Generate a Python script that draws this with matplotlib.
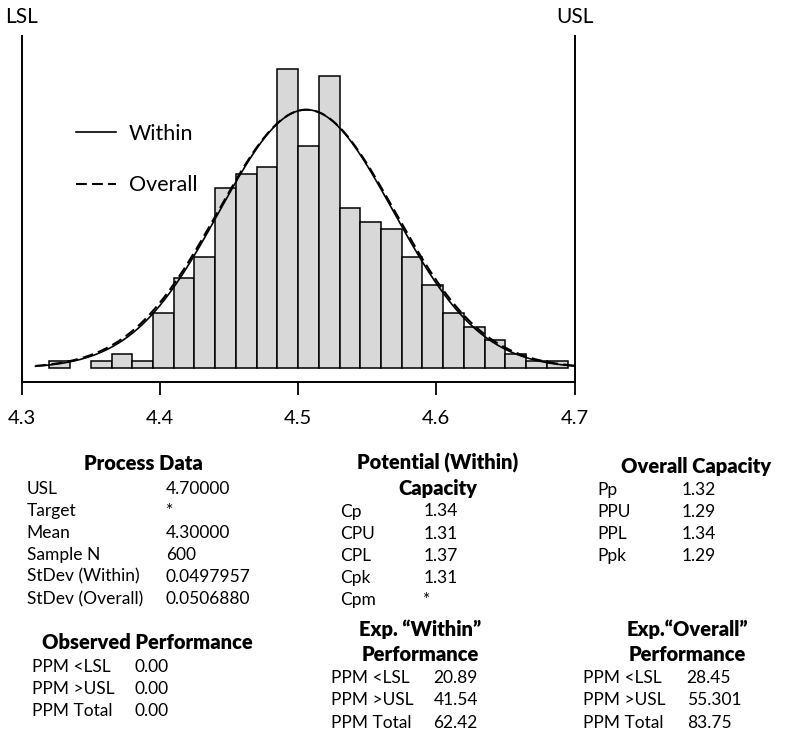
import numpy as np
import matplotlib
matplotlib.use("Agg")
import matplotlib.pyplot as plt

plt.rcParams['font.family'] = ['Lato', 'DejaVu Sans']

# Spec limits and histogram data
LSL = 4.3
USL = 4.7
bin_start = 4.32
bin_width = 0.015
counts = [1, 0, 1, 2, 1, 8, 13, 16, 26, 28, 29, 43, 32, 42, 23, 21, 20, 16, 12, 8, 6, 4, 2, 1, 1]

tick_values = [4.3, 4.4, 4.5, 4.6, 4.7]
tick_labels = ["4.3", "4.4", "4.5", "4.6", "4.7"]

# Fitted normal curves (as drawn)
curve_mean = 4.506
within_sd = 0.063
overall_sd = 0.064
curve_peak = 37.2
curve_from, curve_to = 4.31, 4.70

# Summary tables
process_labels = ["USL", "Target", "Mean", "Sample N", "StDev (Within)", "StDev (Overall)"]
process_values = ["4.70000", "*", "4.30000", "600", "0.0497957", "0.0506880"]

observed_labels = ["PPM <LSL", "PPM >USL", "PPM Total"]
observed_values = ["0.00", "0.00", "0.00"]

potential_labels = ["Cp", "CPU", "CPL", "Cpk", "Cpm"]
potential_values = ["1.34", "1.31", "1.37", "1.31", "*"]

overall_cap_labels = ["Pp", "PPU", "PPL", "Ppk"]
overall_cap_values = ["1.32", "1.29", "1.34", "1.29"]

exp_within_labels = ["PPM <LSL", "PPM >USL", "PPM Total"]
exp_within_values = ["20.89", "41.54", "62.42"]

exp_overall_labels = ["PPM <LSL", "PPM >USL", "PPM Total"]
exp_overall_values = ["28.45", "55.301", "83.75"]

W, H = 786, 733


def fx(x):
    return x / W


def fy(y):
    return 1 - y / H


fig = plt.figure(figsize=(W / 100, H / 100), dpi=100)
ax = fig.add_axes([fx(21.7), fy(382), fx(574.5) - fx(21.7), fy(36) - fy(382)])

# histogram
edges = bin_start + bin_width * np.arange(len(counts))
counts = np.array(counts)
keep = counts > 0
ax.bar(edges[keep], counts[keep], width=bin_width, align='edge',
       color='#d8d8d8', edgecolor='black', linewidth=1.1, zorder=2)

# normal curves
xs = np.linspace(curve_from, curve_to, 400)
within_curve = curve_peak * np.exp(-0.5 * ((xs - curve_mean) / within_sd) ** 2)
overall_curve = curve_peak * np.exp(-0.5 * ((xs - curve_mean) / overall_sd) ** 2)
ax.plot(xs, within_curve, color='black', linewidth=1.2, label='Within', zorder=3)
ax.plot(xs, overall_curve, color='black', linewidth=1.5, linestyle=(0, (5.2, 2.5)),
        label='Overall', zorder=3)

ax.set_xlim(LSL, USL)
ax.set_ylim(-1.97, 47.8)
ax.set_xticks(tick_values)
ax.set_xticklabels(tick_labels, fontsize=14.5)
ax.set_yticks([])
ax.tick_params(axis='x', length=9.4, width=1.3, pad=10.5, direction='out')
ax.spines['top'].set_visible(False)
for side in ['left', 'right', 'bottom']:
    ax.spines[side].set_linewidth(1.4)

# spec limit labels
ax.text(LSL, 1.0 + 13 / 346, "LSL", transform=ax.get_xaxis_transform(),
        ha='center', va='baseline', fontsize=15, clip_on=False)
ax.text(USL, 1.0 + 13 / 346, "USL", transform=ax.get_xaxis_transform(),
        ha='center', va='baseline', fontsize=15, clip_on=False)

leg = ax.legend(loc='upper left', bbox_to_anchor=(fx(76), fy(124)),
                bbox_transform=fig.transFigure, frameon=False, fontsize=15.5,
                handlelength=1.85, handletextpad=0.6, labelspacing=1.45,
                borderpad=0, borderaxespad=0)


def title(lines, cx, base, step=25):
    for i, t in enumerate(lines):
        fig.text(fx(cx), fy(base + i * step), t, ha='center', va='baseline',
                 fontsize=14.5, fontweight='heavy')


def rows(labels, values, lx, vx, base, step=22.1):
    for i, (lab, val) in enumerate(zip(labels, values)):
        fig.text(fx(lx), fy(base + i * step), lab, ha='left', va='baseline', fontsize=12.5)
        fig.text(fx(vx), fy(base + i * step), val, ha='left', va='baseline', fontsize=12.5)


title(["Process Data"], 143.7, 470.3)
rows(process_labels, process_values, 26.7, 166, 493.5)

title(["Observed Performance"], 147.5, 648.7)
rows(observed_labels, observed_values, 31.7, 134.3, 672.5, 21.7)

title(["Potential (Within)", "Capacity"], 438, 469.7)
rows(potential_labels, potential_values, 340, 423.3, 516.5, 22.15)

title(["Exp. \u201cWithin\u201d", "Performance"], 420, 636.3)
rows(exp_within_labels, exp_within_values, 330.7, 433.3, 683.1, 22.2)

title(["Overall Capacity"], 695.8, 472.7)
rows(overall_cap_labels, overall_cap_values, 597.3, 681.7, 494.8, 22.0)

title(["Exp.\u201cOverall\u201d", "Performance"], 687, 636.3)
rows(exp_overall_labels, exp_overall_values, 583.3, 686.7, 683.1, 22.2)

fig.savefig("out.png", dpi=100)
